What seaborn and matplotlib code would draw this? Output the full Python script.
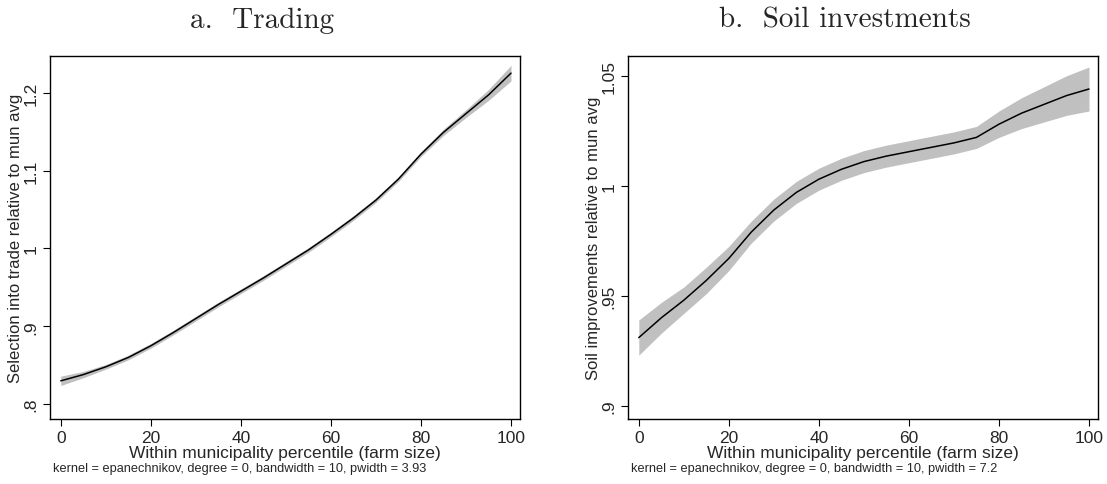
import matplotlib
matplotlib.use('Agg')
import matplotlib.pyplot as plt
import numpy as np
import pandas as pd
import seaborn as sns

# percentile grid
pct = [0, 5, 10, 15, 20, 25, 30, 35, 40, 45, 50, 55, 60, 65, 70, 75, 80, 85, 90, 95, 100]

# a. Trading
trade_fit = [0.830, 0.838, 0.848, 0.860, 0.875, 0.892, 0.910, 0.928, 0.945, 0.962, 0.980,
             0.998, 1.018, 1.039, 1.062, 1.089, 1.121, 1.149, 1.173, 1.197, 1.225]
trade_hw = [0.006, 0.004, 0.003, 0.003, 0.003, 0.003, 0.003, 0.003, 0.003, 0.003, 0.003,
            0.003, 0.003, 0.003, 0.003, 0.003, 0.003, 0.004, 0.005, 0.007, 0.010]

# b. Soil investments
soil_fit = [0.931, 0.940, 0.948, 0.957, 0.967, 0.979, 0.989, 0.997, 1.003, 1.0075, 1.011,
            1.0135, 1.0155, 1.0175, 1.0195, 1.022, 1.028, 1.033, 1.037, 1.041, 1.044]
soil_hw = [0.008, 0.007, 0.006, 0.006, 0.0055, 0.005, 0.005, 0.005, 0.005, 0.005, 0.005,
           0.005, 0.005, 0.005, 0.005, 0.005, 0.006, 0.007, 0.008, 0.009, 0.010]

titles = ['a.  Trading', 'b.  Soil investments']
ylabels = ['Selection into trade relative to mun avg', 'Soil improvements relative to mun avg']
notes = ['kernel = epanechnikov, degree = 0, bandwidth = 10, pwidth = 3.93',
         'kernel = epanechnikov, degree = 0, bandwidth = 10, pwidth = 7.2']
yticks = [[0.8, 0.9, 1.0, 1.1, 1.2], [0.9, 0.95, 1.0, 1.05]]
yticklabels = [['.8', '.9', '1', '1.1', '1.2'], ['.9', '.95', '1', '1.05']]
ylims = [(0.781, 1.247), (0.894, 1.059)]
title_x = [0.451, 0.462]

sns.set_style('ticks')
plt.rcParams['font.family'] = ['Liberation Sans', 'DejaVu Sans']

fig = plt.figure(figsize=(11.07, 4.85), dpi=100)
ax1 = fig.add_axes([50 / 1107, 65 / 485, 470 / 1107, 363 / 485])
ax2 = fig.add_axes([628 / 1107, 65 / 485, 470 / 1107, 363 / 485])

panels = [(ax1, trade_fit, trade_hw), (ax2, soil_fit, soil_hw)]
for i, (ax, fit, hw) in enumerate(panels):
    df = pd.DataFrame({'pct': pct, 'fit': fit, 'hw': hw})
    ax.fill_between(df['pct'], df['fit'] - df['hw'], df['fit'] + df['hw'],
                    color='#c0c0c0', linewidth=0)
    sns.lineplot(data=df, x='pct', y='fit', ax=ax, color='black', linewidth=1.1)
    ax.set_xlim(-2.4, 102)
    ax.set_ylim(*ylims[i])
    ax.set_xticks([0, 20, 40, 60, 80, 100])
    ax.set_yticks(yticks[i])
    ax.set_yticklabels(yticklabels[i], rotation=90, va='center')
    ax.tick_params(axis='both', labelsize=12.5, length=5, width=0.8, color='black')
    ax.tick_params(axis='x', pad=3)
    ax.set_xlabel('Within municipality percentile (farm size)', fontsize=12.5, labelpad=0)
    ax.set_ylabel(ylabels[i], fontsize=12, labelpad=0)
    for s in ax.spines.values():
        s.set_color('black')
        s.set_linewidth(1.0)
    ax.set_title(titles[i], family='cmr10', fontsize=21, pad=21, x=title_x[i])
    bb = ax.get_position()
    fig.text(bb.x0 + 3 / 1107, 1 - 469 / 485, notes[i], fontsize=9.2, ha='left', va='center')

fig.savefig('out.png', dpi=100, facecolor='white')
